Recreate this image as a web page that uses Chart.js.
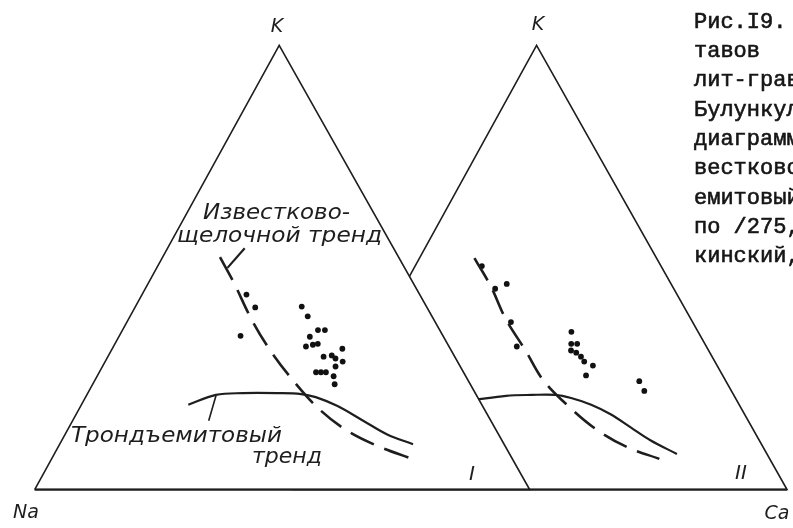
<!DOCTYPE html>
<html lang="ru">
<head>
<meta charset="utf-8">
<title>Рис. I9</title>
<script src="https://cdn.jsdelivr.net/npm/chart.js@4/dist/chart.umd.min.js"></script>
<style>
    html, body { margin: 0; padding: 0; background: #fff; }
    #wrap { width: 793px; height: 528px; }
</style>
</head>
<body>
<div id="wrap"><canvas id="diagram" width="793" height="528"></canvas></div>
<script>
// Compositions in %, K and Ca given, Na = 100 - K - Ca

// ── Diagram I ──
const groupI_K  = [43.9, 41.0, 34.6, 41.2, 39.0, 35.9, 35.9, 34.4, 32.2, 32.6, 32.8, 31.7, 29.9, 30.2, 29.5, 28.8, 27.7, 26.4, 26.4, 26.4, 25.5, 23.7];
const groupI_Ca = [21.1, 24.3, 24.5, 33.6, 35.9, 39.5, 40.9, 38.6, 38.9, 40.1, 41.0, 46.5, 43.6, 45.1, 46.2, 48.0, 47.1, 43.8, 44.8, 45.8, 47.8, 48.9];

const calcAlkI_K  = [52.3, 46.6, 38.4, 31.7, 25.1, 18.4, 13.5, 10.0, 6.9];
const calcAlkI_Ca = [11.6, 17.2, 24.8, 31.7, 39.4, 48.1, 56.1, 63.9, 72.8];
const trondI_K  = [19.1, 21.3, 21.7, 21.7, 21.5, 20.8, 18.8, 15.5, 12.4, 10.2];
const trondI_Ca = [21.6, 26.1, 31.3, 38.3, 43.2, 46.5, 51.9, 58.7, 65.1, 71.4];

// label pointers
const calcAlkTick_K  = [54.3, 49.9];
const calcAlkTick_Ca = [15.6, 14.3];
const trondTick_K  = [21.1, 15.5];
const trondTick_Ca = [26.2, 27.5];

// ── Diagram II ──
const groupII_K  = [50.3, 45.2, 46.3, 37.7, 32.2, 35.5, 32.8, 32.8, 31.3, 30.8, 29.9, 28.8, 27.9, 25.7, 24.4, 22.2];
const groupII_Ca = [13.5, 18.7, 20.5, 25.6, 29.5, 38.9, 40.2, 41.4, 40.9, 42.2, 43.6, 44.8, 47.0, 46.7, 58.1, 60.2];

const calcAlkII_K  = [52.1, 45.7, 38.4, 31.3, 24.6, 18.4, 13.3, 9.5, 6.9];
const calcAlkII_Ca = [11.1, 17.6, 24.2, 31.7, 38.6, 47.1, 55.2, 63.1, 70.8];
const trondII_K  = [20.2, 21.1, 21.3, 21.3, 20.6, 19.1, 16.9, 14.0, 11.1, 8.0];
const trondII_Ca = [27.0, 32.8, 37.9, 42.7, 46.2, 51.0, 56.1, 61.5, 66.9, 73.8];

// triangle outline: Na -> Ca -> K -> Na
const frame_K  = [0, 0, 100, 0];
const frame_Ca = [0, 100, 0, 0];

const captionLines = ['Рис.I9.', 'тавов', 'лит-грав', 'Булункул', 'диаграмм', 'вестково', 'емитовый', 'по /275,', 'кинский,'];

const INK = '#1e1e1e';
const APEX = 0.494;   // K vertex sits a bit left of the base middle
const SHIFT_II = 52;  // second diagram drawn over the first, moved right

function tern(k, ca, shift) {
    return k.map((v, i) => ({ x: shift + ca[i] + APEX * v, y: v }));
}

const frameI = tern(frame_K, frame_Ca, 0);

function lineSet(data, opts = {}) {
    return Object.assign({
        data,
        showLine: true,
        borderColor: INK,
        borderWidth: 2.2,
        pointRadius: 0,
        tension: 0.35,
        fill: false,
    }, opts);
}

function dotSet(data, opts = {}) {
    return Object.assign({
        data,
        showLine: false,
        pointRadius: 2.9,
        pointBackgroundColor: '#111',
        pointBorderWidth: 0,
    }, opts);
}

// diagram II is hidden where it runs under diagram I
const underFirst = {
    id: 'underFirst',
    beforeDatasetDraw(chart, args) {
        if (!chart.data.datasets[args.index].underFirst) return;
        const { x, y } = chart.scales;
        const ctx = chart.ctx;
        ctx.save();
        ctx.beginPath();
        ctx.rect(0, 0, chart.width, chart.height);
        frameI.forEach((p, i) => {
            const px = x.getPixelForValue(p.x), py = y.getPixelForValue(p.y);
            if (i) ctx.lineTo(px, py); else ctx.moveTo(px, py);
        });
        ctx.closePath();
        ctx.clip('evenodd');
    },
    afterDatasetDraw(chart, args) {
        if (chart.data.datasets[args.index].underFirst) chart.ctx.restore();
    }
};

function fitText(ctx, text, left, y, width) {
    const w = ctx.measureText(text).width;
    ctx.save();
    ctx.translate(left, y);
    ctx.scale(width / w, 1);
    ctx.fillText(text, 0, 0);
    ctx.restore();
}

const labels = {
    id: 'labels',
    afterDraw(chart) {
        const ctx = chart.ctx;
        ctx.save();
        ctx.fillStyle = INK;
        ctx.textBaseline = 'middle';

        ctx.textAlign = 'center';
        ctx.font = 'italic 19px "DejaVu Sans"';
        ctx.fillText('K', 277, 27);
        ctx.fillText('K', 538, 25);
        ctx.fillText('Na', 26, 513);
        ctx.fillText('Ca', 777, 514);
        ctx.font = 'italic 20px "DejaVu Sans"';
        ctx.fillText('I', 472, 475);
        ctx.fillText('II', 741, 474);

        ctx.textAlign = 'left';
        ctx.font = 'italic 22px "DejaVu Sans"';
        fitText(ctx, 'Известково-', 203, 213, 147);
        fitText(ctx, 'щелочной тренд', 177, 236, 205);
        fitText(ctx, 'Трондъемитовый', 71, 436, 211);
        fitText(ctx, 'тренд', 252, 457, 70);

        // typewritten caption, a little heavier than the plain mono face
        ctx.font = '22px "Liberation Mono"';
        ctx.fillStyle = '#161616';
        ctx.strokeStyle = '#161616';
        ctx.lineWidth = 0.6;
        captionLines.forEach((t, i) => {
            ctx.fillText(t, 694, 22 + i * 29.3);
            ctx.strokeText(t, 694, 22 + i * 29.3);
        });
        ctx.restore();
    }
};

new Chart(document.getElementById('diagram'), {
    type: 'scatter',
    data: {
        datasets: [
            lineSet(frameI, { borderWidth: 1.6, tension: 0 }),
            lineSet(tern(frame_K, frame_Ca, SHIFT_II), { borderWidth: 1.6, tension: 0, underFirst: true }),
            lineSet([{ x: 0, y: 0 }, { x: SHIFT_II + 100, y: 0 }], { borderWidth: 2.2, borderColor: '#333', tension: 0 }),

            lineSet(tern(calcAlkI_K, calcAlkI_Ca, 0), { borderWidth: 2.6, borderDash: [26, 11] }),
            lineSet(tern(trondI_K, trondI_Ca, 0)),
            lineSet(tern(calcAlkTick_K, calcAlkTick_Ca, 0), { tension: 0 }),
            lineSet(tern(trondTick_K, trondTick_Ca, 0), { borderWidth: 1.6, tension: 0 }),

            lineSet(tern(calcAlkII_K, calcAlkII_Ca, SHIFT_II), { borderWidth: 2.6, borderDash: [26, 11], underFirst: true }),
            lineSet(tern(trondII_K, trondII_Ca, SHIFT_II), { underFirst: true }),

            dotSet(tern(groupI_K, groupI_Ca, 0)),
            dotSet(tern(groupII_K, groupII_Ca, SHIFT_II)),
        ]
    },
    options: {
        responsive: false,
        animation: false,
        layout: { padding: 0 },
        plugins: { legend: { display: false }, tooltip: { enabled: false } },
        scales: {
            x: { type: 'linear', display: false, min: -6.2, max: 152.4 },
            y: { type: 'linear', display: false, min: -7.76, max: 109.31 }
        }
    },
    plugins: [underFirst, labels]
});
</script>
</body>
</html>
